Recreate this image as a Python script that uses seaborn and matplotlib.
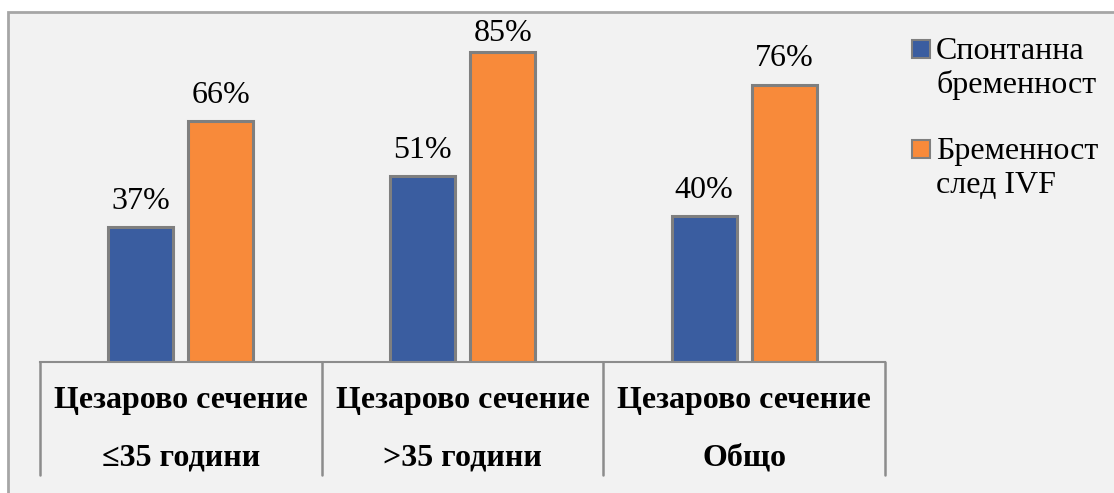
import matplotlib
matplotlib.use("Agg")
import matplotlib.pyplot as plt
import seaborn as sns
import pandas as pd
from matplotlib.patches import Patch, Rectangle
from matplotlib.legend_handler import HandlerPatch

categories = ["Цезарово сечение\n≤35 години", "Цезарово сечение\n>35 години", "Цезарово сечение\nОбщо"]
series_names = ["Спонтанна\nбременност", "Бременност\nслед IVF"]
spontaneous = [37, 51, 40]
ivf = [66, 85, 76]

colors = ["#3A5DA0", "#F88A3A"]

df = pd.DataFrame({
    "cat": categories * 2,
    "series": [series_names[0]] * 3 + [series_names[1]] * 3,
    "value": spontaneous + ivf,
})

sns.set_theme(style="white")
plt.rcParams["font.family"] = ["Liberation Serif", "DejaVu Serif"]
plt.rcParams["text.color"] = "black"
plt.rcParams["xtick.color"] = "black"

W, H = 1114, 493
fig = plt.figure(figsize=(W / 100, H / 100), dpi=100)
fig.patch.set_facecolor("white")

# panel background with border on top/left
fig.patches.append(Rectangle((8 / W, -0.2), 1.2, (H - 12) / H + 0.2, transform=fig.transFigure,
                             facecolor="#F2F2F2", edgecolor="#A6A6A6", linewidth=2, zorder=-10))

ax = fig.add_axes([40 / W, (H - 362) / H, 845 / W, 328.5 / H])
ax.set_facecolor("none")

sns.barplot(data=df, x="cat", y="value", hue="series", palette=colors, ax=ax,
            width=0.57, gap=0.19, edgecolor="#7F7F7F", linewidth=2.2, legend=False,
            saturation=1)

# labels near the top of the plot area sit closer to the bar (as in the original)
for cont in ax.containers:
    labels = ax.bar_label(cont, fmt="%d%%", padding=8, fontsize=23, color="black")
    for bar, lab in zip(cont, labels):
        if bar.get_height() > 80:
            lab.xyann = (0, 3)

ax.set_ylim(0, 90)
ax.set_xlim(-0.5, 2.5)
ax.set_xlabel("")
ax.set_ylabel("")
ax.set_yticks([])
for s in ["top", "right", "left"]:
    ax.spines[s].set_visible(False)
ax.spines["bottom"].set_color("#8C8C8C")
ax.spines["bottom"].set_linewidth(1.5)

ax.set_xticks(range(len(categories)))
ax.set_xticklabels(categories, fontsize=23, fontweight="bold", linespacing=2.3, color="black")
ax.tick_params(axis="x", length=0, pad=17)

# table separators
trans = ax.get_xaxis_transform()
for xv in [-0.5, 0.5, 1.5, 2.5]:
    ax.plot([xv, xv], [0, -113 / 328.5], transform=trans, color="#8C8C8C",
            linewidth=1.8, clip_on=False)


def top_square(legend, orig_handle, xdescent, ydescent, width, height, fontsize):
    size = 0.56 * fontsize
    y = -ydescent + (height - size) / 2 + 0.6 * fontsize
    return Rectangle((-xdescent, y), size, size)


handles = [Patch(facecolor=c, edgecolor="#7F7F7F", linewidth=1.5) for c in colors]
fig.legend(handles, series_names, loc="upper left", bbox_to_anchor=(899 / W, 1 - 24 / H),
           frameon=False, fontsize=23, handlelength=0.56, handleheight=0.56,
           handletextpad=0.2, labelspacing=1.15, borderaxespad=0,
           handler_map={Patch: HandlerPatch(patch_func=top_square)})

fig.savefig("out.png", dpi=100, facecolor=fig.get_facecolor())
